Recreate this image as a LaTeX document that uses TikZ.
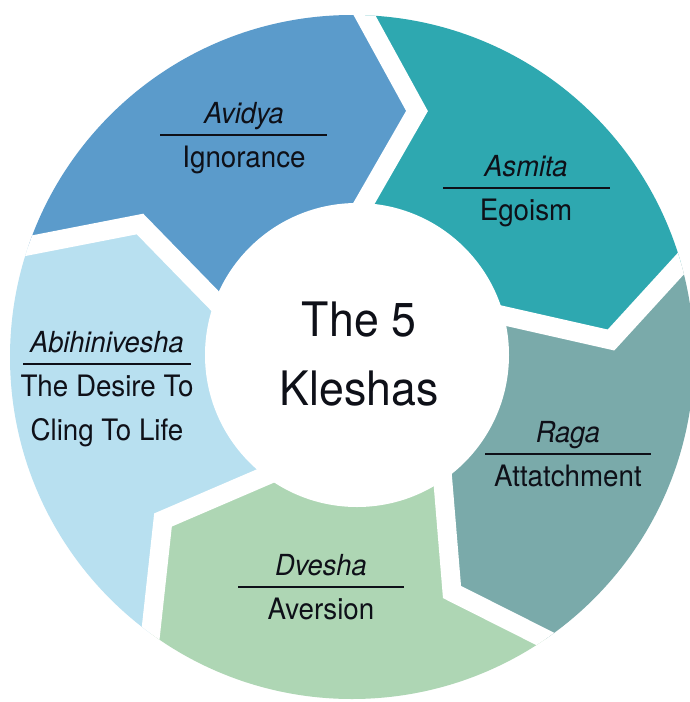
\documentclass[tikz,border=0pt]{standalone}
\usepackage{fontspec}
\setmainfont{TeX Gyre Heros}[FakeStretch=0.94]
\usetikzlibrary{calc}
\definecolor{cavidya}{RGB}{91,155,203}
\definecolor{casmita}{RGB}{46,168,176}
\definecolor{craga}{RGB}{122,170,170}
\definecolor{cdvesha}{RGB}{174,214,180}
\definecolor{cabhi}{RGB}{184,224,240}
\definecolor{tdark}{RGB}{14,16,24}
\begin{document}
\begin{tikzpicture}[x=1pt,y=-1pt,
  gap/.style={white,line width=19pt,line join=miter,line cap=butt},
  desc/.style={font=\fontsize{29.5}{44}\selectfont,text=tdark,anchor=base,inner sep=0pt},
  kname/.style={font=\fontsize{29}{44}\selectfont\itshape,text=tdark,anchor=base,inner sep=0pt},
  ttl/.style={font=\fontsize{47.5}{70}\selectfont,text=tdark,anchor=base,inner sep=0pt},
  rule/.style={tdark,line width=1.8pt}]
\useasboundingbox (0,0) rectangle (690,702);
\fill[white] (0,0) rectangle (690,702);
\coordinate (O) at (352,357);
\coordinate (C) at (357,355);
% boundaries: inner, tip, outer
\coordinate (i1) at (363,205); \coordinate (t1) at (417,111); \coordinate (o1) at (338,-33);
\coordinate (i2) at (505,316); \coordinate (t2) at (611,340); \coordinate (o2) at (707,235);
\coordinate (i3) at (443,483); \coordinate (t3) at (452,592); \coordinate (o3) at (603,668);
\coordinate (i4) at (263,477); \coordinate (t4) at (163,520); \coordinate (o4) at (145,685);
\coordinate (i5) at (214,300); \coordinate (t5) at (140,224); \coordinate (o5) at (-19,255);
\foreach \k in {1,...,5} { \coordinate (I\k) at ($(t\k)!1.5!(i\k)$); }
\begin{scope}
  \clip (O) circle[radius=342pt];
  \fill[cavidya] (C) -- (I5) -- (t5) -- (o5) -- (-200,-200) -- (o1) -- (t1) -- (I1) -- cycle;
  \fill[casmita] (C) -- (I1) -- (t1) -- (o1) -- (900,-200) -- (o2) -- (t2) -- (I2) -- cycle;
  \fill[craga] (C) -- (I2) -- (t2) -- (o2) -- (1000,600) -- (o3) -- (t3) -- (I3) -- cycle;
  \fill[cdvesha] (C) -- (I3) -- (t3) -- (o3) -- (380,1100) -- (o4) -- (t4) -- (I4) -- cycle;
  \fill[cabhi] (C) -- (I4) -- (t4) -- (o4) -- (-300,600) -- (o5) -- (t5) -- (I5) -- cycle;
  \foreach \k in {1,...,5} { \draw[gap] (I\k) -- (t\k) -- (o\k); }
\end{scope}
\fill[white] (C) circle[radius=152pt];
% title
\node[ttl] (title1) at (359,336) {The 5};
\node[ttl] (title2) at (359,405) {Kleshas};
% Avidya
\node[kname] (n1) at (244,123) {Avidya};
\node[desc] (d1) at (244,167) {Ignorance};
\coordinate (l1a) at (160,135); \coordinate (l1b) at (327,135);
\draw[rule] (l1a) -- (l1b);
% Asmita
\node[kname] (n2) at (526,176) {Asmita};
\node[desc] (d2) at (526,220) {Egoism};
\coordinate (l2a) at (443,188); \coordinate (l2b) at (610,188);
\draw[rule] (l2a) -- (l2b);
% Raga
\node[kname] (n3) at (568,442) {Raga};
\node[desc] (d3) at (568,486) {Attatchment};
\coordinate (l3a) at (485,454); \coordinate (l3b) at (651,454);
\draw[rule] (l3a) -- (l3b);
% Dvesha
\node[kname] (n4) at (321,575) {Dvesha};
\node[desc] (d4) at (321,619) {Aversion};
\coordinate (l4a) at (238,587); \coordinate (l4b) at (404,587);
\draw[rule] (l4a) -- (l4b);
% Abihinivesha
\node[kname] (n5) at (107,352) {Abihinivesha};
\node[desc] (d5) at (107,396) {The Desire To};
\node[desc] (d5b) at (107,440) {Cling To Life};
\coordinate (l5a) at (23,364); \coordinate (l5b) at (191,364);
\draw[rule] (l5a) -- (l5b);
\end{tikzpicture}
\end{document}
